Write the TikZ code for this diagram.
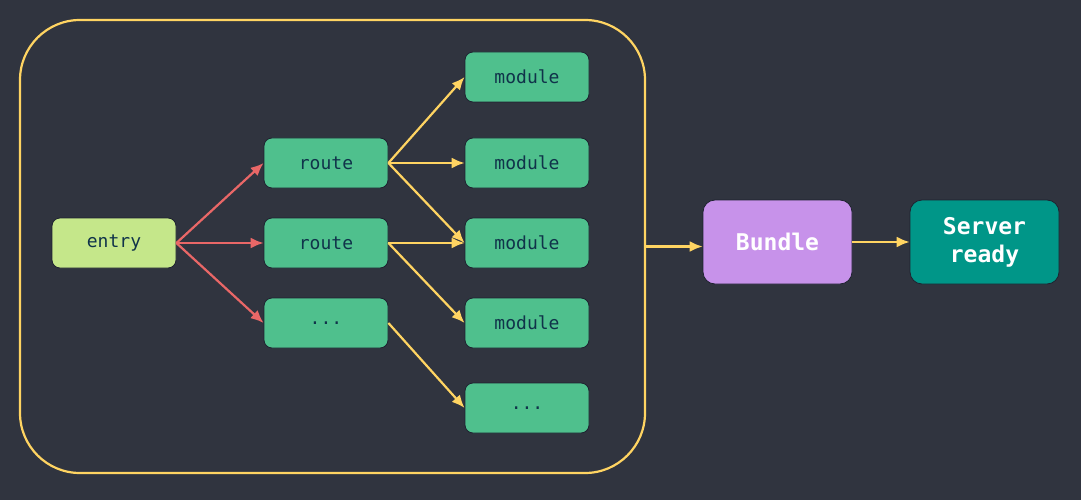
\documentclass[tikz,border=0pt]{standalone}
\usepackage{fontspec}
\setmonofont{DejaVu Sans Mono}
\usetikzlibrary{arrows.meta}
\definecolor{bg}{HTML}{30343F}
\definecolor{gold}{HTML}{FFD462}
\definecolor{coral}{HTML}{E96767}
\definecolor{leaf}{HTML}{C5E78A}
\definecolor{vuegreen}{HTML}{4FC08D}
\definecolor{lilac}{HTML}{C792EA}
\definecolor{teal}{HTML}{009688}
\definecolor{ink}{HTML}{10334A}
\definecolor{rim}{HTML}{1E2230}

\begin{document}
\begin{tikzpicture}[x=1pt,y=-1pt]
	\tikzset{>={Latex[length=13pt,width=11pt]}}
	\tikzset{box/.style={draw=rim,line width=0.8pt,rounded corners=8pt,minimum width=124pt,minimum height=50pt,inner sep=0pt,text=ink,font=\ttfamily\fontsize{18}{21}\selectfont}}
	\tikzset{big/.style={draw=rim,line width=0.8pt,rounded corners=12pt,minimum width=149pt,minimum height=84pt,inner sep=0pt,text=white,align=center,font=\ttfamily\bfseries\fontsize{23}{28}\selectfont}}
	\fill[bg] (0,0) rectangle (1081,500);
	\useasboundingbox (0,0) rectangle (1081,500);
	\node[draw=gold,line width=2.2pt,rounded corners=60pt,minimum width=625pt,minimum height=453pt] (app) at (332.5,246.5) {};
	\node[box,fill=leaf] (entry) at (114,243) {entry};
	\node[box,fill=vuegreen] (route1) at (326,163) {route};
	\node[box,fill=vuegreen] (route2) at (326,243) {route};
	\node[box,fill=vuegreen] (route3) at (326,323) {...};
	\node[box,fill=vuegreen] (mod1) at (527,77) {module};
	\node[box,fill=vuegreen] (mod2) at (527,163) {module};
	\node[box,fill=vuegreen] (mod3) at (527,243) {module};
	\node[box,fill=vuegreen] (mod4) at (527,323) {module};
	\node[box,fill=vuegreen] (mod5) at (527,408) {...};
	\node[big,fill=lilac] (bundle) at (777.5,242) {Bundle};
	\node[big,fill=teal] (ready) at (984.5,242) {Server\\ready};
	\foreach \r in {route1,route2,route3}
		\draw[->,coral,line width=2.2pt] (entry.east) -- (\r.west);
	\foreach \a/\b in {route1/mod1,route1/mod2,route1/mod3,route2/mod3,route2/mod4,route3/mod5}
		\draw[->,gold,line width=2.2pt] (\a.east) -- (\b.west);
	\draw[->,gold,line width=2.2pt] (app.east) -- (bundle.west |- app.east);
	\draw[->,gold,line width=2.2pt] (bundle.east) -- (ready.west);
\end{tikzpicture}
\end{document}
